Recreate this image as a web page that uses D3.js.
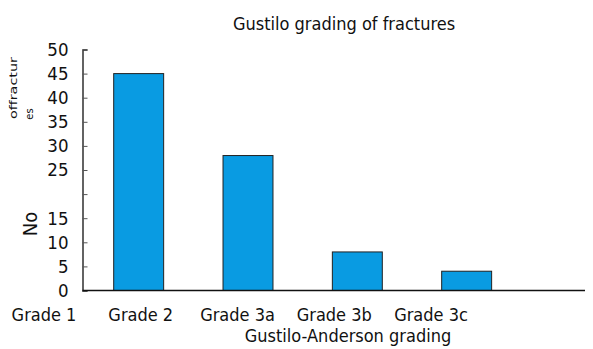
<!DOCTYPE html>
<html>
<head>
<meta charset="utf-8">
<script src="https://cdn.jsdelivr.net/npm/d3@7"></script>
<style>
  html, body { margin: 0; padding: 0; background: #fff; }
  svg { display: block; }
  text { font-family: "DejaVu Sans Condensed", "DejaVu Sans", sans-serif; fill: #111; }
</style>
</head>
<body>
<svg id="chart" width="593" height="349"></svg>
<script>
// Number of fractures by Gustilo-Anderson grade
const categories = ["Grade 1", "Grade 2", "Grade 3a", "Grade 3b", "Grade 3c"];
const counts = [0, 45, 28, 8, 4];
const yTicks = [0, 5, 10, 15, 20, 25, 30, 35, 40, 45, 50];
const yTickLabels = ["0", "5", "10", "15", "", "25", "30", "35", "40", "45", "50"];

const plot = { left: 82.5, right: 585, top: 49.5, bottom: 290.5 };

const svg = d3.select("#chart");

const y = d3.scaleLinear().domain([0, 50]).range([plot.bottom, plot.top]);

// bar slots (the first slot sits left of the value axis)
const xBar = d3.scaleBand().domain(categories).range([-55, 551]).padding(0.543);
// category labels along the bottom
const xLabel = d3.scalePoint().domain(categories).range([44, 431]);

// bars
svg.append("g")
  .selectAll("rect")
  .data(categories.map((c, i) => ({ c, v: counts[i] })).filter(d => d.v > 0))
  .join("rect")
  .attr("x", d => xBar(d.c))
  .attr("y", d => y(d.v))
  .attr("width", xBar.bandwidth())
  .attr("height", d => y(0) - y(d.v))
  .attr("fill", "#099be2")
  .attr("stroke", "#222")
  .attr("stroke-width", 1);

// value axis with inward ticks
const yAxis = d3.axisLeft(y)
  .tickValues(yTicks)
  .tickFormat((d, i) => yTickLabels[i])
  .tickSizeInner(-5)
  .tickSizeOuter(-5)
  .tickPadding(14);

const gy = svg.append("g").attr("transform", `translate(${plot.left},0)`).call(yAxis);
gy.select(".domain").attr("stroke", "#222").attr("stroke-width", 1.4);
gy.selectAll(".tick line").attr("stroke", "#555");
gy.selectAll(".tick text")
  .attr("font-family", "DejaVu Sans Condensed, DejaVu Sans, sans-serif")
  .attr("font-size", 18.5)
  .attr("fill", "#111");

// category baseline
svg.append("line")
  .attr("x1", plot.left).attr("x2", plot.right)
  .attr("y1", y(0)).attr("y2", y(0))
  .attr("stroke", "#111").attr("stroke-width", 1.5);

// category labels
svg.append("g")
  .selectAll("text")
  .data(categories)
  .join("text")
  .attr("x", d => xLabel(d))
  .attr("y", 321)
  .attr("text-anchor", "middle")
  .attr("font-size", 18)
  .text(d => d);

// title
svg.append("text")
  .attr("x", 344).attr("y", 30)
  .attr("text-anchor", "middle")
  .attr("font-size", 18)
  .text("Gustilo grading of fractures");

// x axis title
svg.append("text")
  .attr("x", 348).attr("y", 342)
  .attr("text-anchor", "middle")
  .attr("font-size", 18)
  .text("Gustilo-Anderson grading");

// y axis title, split across pieces
svg.append("text")
  .attr("transform", "translate(37,224) rotate(-90)")
  .attr("text-anchor", "middle")
  .attr("font-size", 20)
  .text("No");

svg.append("text")
  .attr("transform", "translate(17,88) rotate(-90)")
  .attr("text-anchor", "middle")
  .attr("font-size", 10)
  .attr("textLength", 62)
  .attr("lengthAdjust", "spacingAndGlyphs")
  .text("offractur");

svg.append("text")
  .attr("transform", "translate(33,114) rotate(-90)")
  .attr("text-anchor", "middle")
  .attr("font-size", 11)
  .text("es");
</script>
</body>
</html>
